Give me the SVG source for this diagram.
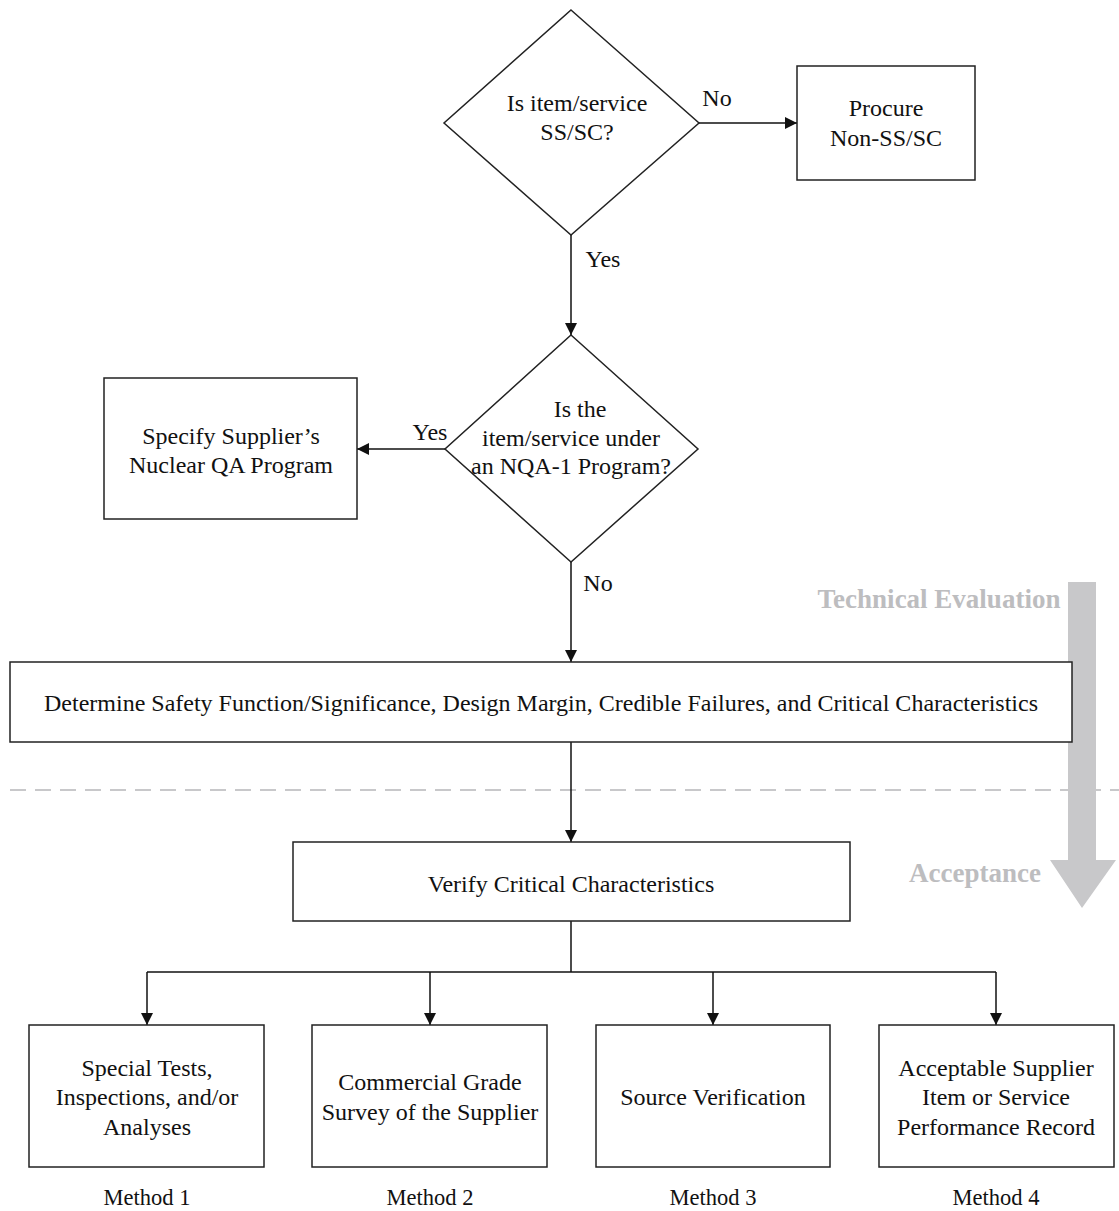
<svg xmlns="http://www.w3.org/2000/svg" width="1119" height="1211" viewBox="0 0 1119 1211">
<style>
.n{fill:#fff;stroke:#222;stroke-width:1.5}
.t{font-family:"Liberation Serif","Times New Roman",serif;font-size:24px;fill:#111;text-anchor:middle}
.m{font-size:22.5px}
.c{stroke:#111;stroke-width:1.5;fill:none}
.g{font-family:"Liberation Serif","Times New Roman",serif;font-size:27px;font-weight:bold;fill:#bdbdbf;text-anchor:middle}
</style>
<defs>
<marker id="ah" viewBox="0 0 10 10" refX="10" refY="5" markerWidth="12" markerHeight="12" markerUnits="userSpaceOnUse" orient="auto">
<path d="M0,0 L10,5 L0,10 z" fill="#111"/>
</marker>
</defs>
<rect width="1119" height="1211" fill="#fff"/>
<g id="phase">
<line x1="10" y1="790" x2="1119" y2="790" stroke="#c8c8ca" stroke-width="2" stroke-dasharray="16,9"/>
<path d="M1068,582 H1096 V860 H1116 L1082,908 L1050,860 H1068 Z" fill="#c8c8ca"/>
<text class="g" x="939" y="608">Technical Evaluation</text>
<text class="g" x="975" y="882">Acceptance</text>
</g>
<g id="connectors">
<line class="c" x1="699" y1="123" x2="797" y2="123" marker-end="url(#ah)"/>
<text class="t" x="717" y="106">No</text>
<line class="c" x1="571" y1="235" x2="571" y2="335" marker-end="url(#ah)"/>
<text class="t" x="603" y="267">Yes</text>
<line class="c" x1="445" y1="449" x2="357" y2="449" marker-end="url(#ah)"/>
<text class="t" x="430" y="440">Yes</text>
<line class="c" x1="571" y1="562" x2="571" y2="662" marker-end="url(#ah)"/>
<text class="t" x="598" y="591">No</text>
<line class="c" x1="571" y1="742" x2="571" y2="842" marker-end="url(#ah)"/>
<polyline class="c" points="571,921 571,972"/>
<line class="c" x1="147" y1="972" x2="996" y2="972"/>
<line class="c" x1="147" y1="972" x2="147" y2="1025" marker-end="url(#ah)"/>
<line class="c" x1="430" y1="972" x2="430" y2="1025" marker-end="url(#ah)"/>
<line class="c" x1="713" y1="972" x2="713" y2="1025" marker-end="url(#ah)"/>
<line class="c" x1="996" y1="972" x2="996" y2="1025" marker-end="url(#ah)"/>
</g>
<g id="d1">
<polygon class="n" points="571,10 699,123 571,235 444,123"/>
<text class="t" x="577" y="111">Is item/service</text>
<text class="t" x="577" y="140">SS/SC?</text>
</g>
<g id="procure">
<rect class="n" x="797" y="66" width="178" height="114"/>
<text class="t" x="886" y="116">Procure</text>
<text class="t" x="886" y="146">Non-SS/SC</text>
</g>
<g id="d2">
<polygon class="n" points="571,335 698,449 571,562 445,449"/>
<text class="t" x="580" y="417">Is the</text>
<text class="t" x="571" y="446">item/service under</text>
<text class="t" x="571" y="474">an NQA-1 Program?</text>
</g>
<g id="specify">
<rect class="n" x="104" y="378" width="253" height="141"/>
<text class="t" x="231" y="444">Specify Supplier’s</text>
<text class="t" x="231" y="473">Nuclear QA Program</text>
</g>
<g id="determine">
<rect class="n" x="10" y="662" width="1062" height="80"/>
<text class="t" x="541" y="711">Determine Safety Function/Significance, Design Margin, Credible Failures, and Critical Characteristics</text>
</g>
<g id="verify">
<rect class="n" x="293" y="842" width="557" height="79"/>
<text class="t" x="571" y="892">Verify Critical Characteristics</text>
</g>
<g id="m1">
<rect class="n" x="29" y="1025" width="235" height="142"/>
<text class="t" x="147" y="1076">Special Tests,</text>
<text class="t" x="147" y="1105">Inspections, and/or</text>
<text class="t" x="147" y="1135">Analyses</text>
<text class="t m" x="147" y="1205">Method 1</text>
</g>
<g id="m2">
<rect class="n" x="312" y="1025" width="235" height="142"/>
<text class="t" x="430" y="1090">Commercial Grade</text>
<text class="t" x="430" y="1120">Survey of the Supplier</text>
<text class="t m" x="430" y="1205">Method 2</text>
</g>
<g id="m3">
<rect class="n" x="596" y="1025" width="234" height="142"/>
<text class="t" x="713" y="1105">Source Verification</text>
<text class="t m" x="713" y="1205">Method 3</text>
</g>
<g id="m4">
<rect class="n" x="879" y="1025" width="235" height="142"/>
<text class="t" x="996" y="1076">Acceptable Supplier</text>
<text class="t" x="996" y="1105">Item or Service</text>
<text class="t" x="996" y="1135">Performance Record</text>
<text class="t m" x="996" y="1205">Method 4</text>
</g>
</svg>
